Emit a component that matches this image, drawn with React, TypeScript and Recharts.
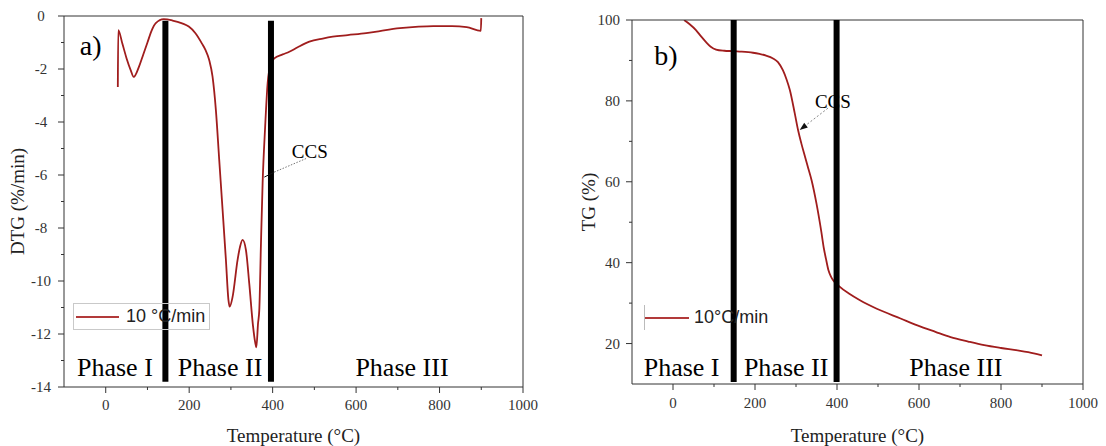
import React from "react";
import {
  Label,
  Legend,
  Line,
  LineChart,
  ReferenceDot,
  ReferenceLine,
  XAxis,
  YAxis,
} from "recharts";

// DTG curve (panel a)
const dtgTemp = [
  29, 30, 40, 50, 60, 67, 80, 90, 100, 110, 120, 139, 160, 183, 199, 215, 231,
  239, 248, 256, 264, 272, 280, 288, 294, 297, 304, 316, 322, 328, 336, 344,
  353, 358, 361, 365, 368, 372, 376, 382, 388, 396, 404, 424, 440, 460, 488,
  520, 544, 580, 624, 660, 705, 750, 785, 830, 865, 899, 900,
];
const dtgRate = [
  -2.68, -0.53, -1.05, -1.6, -2.05, -2.3, -1.9, -1.45, -1.0, -0.55, -0.27,
  -0.12, -0.17, -0.28, -0.4, -0.65, -1.05, -1.28, -1.66, -2.29, -3.55, -5.43,
  -7.3, -9.2, -10.7, -10.97, -10.6, -9.2, -8.7, -8.45, -8.83, -10.1, -11.7,
  -12.3, -12.5, -11.6, -11.1, -8.6, -6.3, -4.2, -2.54, -1.79, -1.6, -1.45,
  -1.35, -1.18, -0.97, -0.85, -0.78, -0.72, -0.65, -0.56, -0.46, -0.4, -0.38,
  -0.38, -0.42, -0.56, -0.08,
];

// TG curve (panel b)
const tgTemp = [
  27, 40, 56, 68, 80, 92, 105, 125, 145, 162, 195, 211, 227, 244, 256, 268,
  277, 285, 297, 305, 313, 322, 330, 338, 350, 362, 368, 373, 379, 385, 391,
  399, 407, 430, 456, 497, 555, 596, 640, 677, 720, 759, 800, 841, 880, 900,
];
const tgMass = [
  100, 99.0, 97.5, 96.0, 94.6, 93.4, 92.7, 92.4, 92.3, 92.2, 91.9, 91.6, 91.2,
  90.5, 89.6, 87.6, 85.3, 82.7, 76.9, 72.8, 69.5, 66.2, 63.3, 60.4, 54.6, 47.5,
  43.5, 41.0, 38.2, 36.6, 35.6, 34.8, 34.0, 32.3, 30.7, 28.6, 26.2, 24.5, 22.9,
  21.6, 20.5, 19.6, 18.9, 18.3, 17.6, 17.1,
];

const xMajor = [0, 200, 400, 600, 800, 1000];
const xMinor = [100, 300, 500, 700, 900];
const dtgMajor = [-14, -12, -10, -8, -6, -4, -2, 0];
const dtgMinor = [-13, -11, -9, -7, -5, -3, -1];
const tgMajor = [20, 40, 60, 80, 100];
const tgMinor = [30, 50, 70, 90];

const phaseNames = ["Phase I", "Phase II", "Phase III"];
const dtgBounds = [143, 396];
const tgBounds = [148, 399];
const dtgPhaseAt = [22, 274, 710];
const tgPhaseAt = [21, 276, 690];

const dtgData = dtgTemp.map((t, i) => ({ t, v: dtgRate[i] }));
const tgData = tgTemp.map((t, i) => ({ t, v: tgMass[i] }));

const SERIF = "'Liberation Serif', 'Times New Roman', Times, serif";
const SANS = "'Liberation Sans', Arial, sans-serif";
const CURVE = "#a01d1d";
const AXIS = "#333";

const xTick = (labelDy: number) => (props: any) => {
  const { x, y, payload } = props;
  const major = xMajor.includes(payload.value);
  return (
    <g>
      <line x1={x} x2={x} y1={y} y2={y + (major ? 6 : 3)} stroke={AXIS} />
      {major && (
        <text x={x} y={y + labelDy} textAnchor="middle" dominantBaseline="central"
          fontFamily={SERIF} fontSize={15} fill="#333">
          {payload.value}
        </text>
      )}
    </g>
  );
};

const yTick = (majors: number[], anchor: string, dx: number) => (props: any) => {
  const { x, y, payload } = props;
  const major = majors.includes(payload.value);
  return (
    <g>
      <line x1={x - (major ? 6 : 3)} x2={x} y1={y} y2={y} stroke={AXIS} />
      {major && (
        <text x={x - dx} y={y} textAnchor={anchor} dominantBaseline="central"
          fontFamily={SERIF} fontSize={15} fill="#333">
          {payload.value}
        </text>
      )}
    </g>
  );
};

const legendBox = (boxed: boolean) => (props: any) => {
  const item = props.payload && props.payload[0];
  return (
    <div
      style={{
        width: boxed ? 137 : 130,
        height: 27,
        boxSizing: "border-box",
        border: boxed ? "1px solid #c9c9c9" : "none",
        display: "flex",
        alignItems: "center",
        fontFamily: SANS,
        fontSize: 18,
        color: "#222",
      }}
    >
      {!boxed && (
        <span style={{ display: "inline-block", width: 0, height: 25, borderLeft: "1.5px solid #bbb" }} />
      )}
      <span
        style={{
          display: "inline-block",
          width: boxed ? 43 : 44,
          borderTop: "2px solid #b23a3a",
          marginLeft: boxed ? 2 : 0,
          marginRight: boxed ? 7 : 5,
        }}
      />
      <span>{item ? item.value : ""}</span>
    </div>
  );
};

const Arrow = (p: any) => {
  const { x1, y1, x2, y2 } = p;
  const a = Math.atan2(y2 - y1, x2 - x1);
  const bx = x2 - 8 * Math.cos(a);
  const by = y2 - 8 * Math.sin(a);
  const w = 3;
  const pts = `${x2},${y2} ${bx - w * Math.sin(a)},${by + w * Math.cos(a)} ${bx + w * Math.sin(a)},${by - w * Math.cos(a)}`;
  return (
    <g>
      <line x1={x1} y1={y1} x2={bx} y2={by} stroke="#888" strokeDasharray="2 2" />
      <polygon points={pts} fill="#111" />
    </g>
  );
};

const textLabel = (value: string, size: number) => ({
  value,
  position: "center" as const,
  fill: "#000",
  fontSize: size,
  fontFamily: SERIF,
});

const axisLabelStyle = { fontFamily: SERIF, fontSize: 19, fill: "#222" };

function DtgPanel() {
  return (
    <LineChart width={540} height={446} data={dtgData}
      margin={{ top: 16, right: 17, bottom: 0, left: 0 }}>
      <XAxis dataKey="t" type="number" domain={[-100, 1000]} allowDataOverflow
        ticks={[...xMajor, ...xMinor].sort((a, b) => a - b)} interval={0}
        height={59} tickSize={0} tickMargin={0} tickLine={false}
        axisLine={{ stroke: AXIS }} tick={xTick(18)}>
        <Label value="Temperature (°C)" position="insideBottom" offset={4} style={axisLabelStyle} />
      </XAxis>
      <YAxis type="number" domain={[-14, 0]} allowDataOverflow
        ticks={[...dtgMajor, ...dtgMinor].sort((a, b) => a - b)} interval={0}
        width={64} tickSize={0} tickMargin={0} tickLine={false}
        axisLine={{ stroke: AXIS }} tick={yTick(dtgMajor, "middle", 23)}>
        <Label value="DTG (%/min)" angle={-90} position="insideLeft" offset={17}
          style={{ ...axisLabelStyle, textAnchor: "middle" }} />
      </YAxis>
      <Legend layout="horizontal" verticalAlign="middle" align="center"
        wrapperStyle={{ left: 73, top: 303, width: 137, height: 27, margin: 0 }}
        content={legendBox(true)} />
      <Line type="monotone" dataKey="v" name="10 °C/min" stroke={CURVE}
        strokeWidth={1.8} dot={false} isAnimationActive={false} />
      <ReferenceLine y={0} stroke={AXIS} />
      <ReferenceLine x={1000} stroke={AXIS} />
      {dtgBounds.map((b) => (
        <ReferenceLine key={b} segment={[{ x: b, y: -0.18 }, { x: b, y: -13.8 }]}
          stroke="#000" strokeWidth={6} />
      ))}
      <ReferenceLine segment={[{ x: 380, y: -6.08 }, { x: 404, y: -5.89 }]} stroke="#111" />
      <ReferenceLine segment={[{ x: 404, y: -5.89 }, { x: 483, y: -5.36 }]}
        stroke="#777" strokeDasharray="1.5 1.5" />
      <ReferenceDot x={489} y={-5.11} r={0} stroke="none" fill="none" label={textLabel("CCS", 19)} />
      <ReferenceDot x={-36} y={-1.1} r={0} stroke="none" fill="none" label={textLabel("a)", 28)} />
      {phaseNames.map((n, i) => (
        <ReferenceDot key={n} x={dtgPhaseAt[i]} y={-13.23} r={0} stroke="none" fill="none"
          label={textLabel(n, 26)} />
      ))}
    </LineChart>
  );
}

function TgPanel() {
  return (
    <LineChart width={553} height={446} data={tgData}
      margin={{ top: 20, right: 23, bottom: 0, left: 0 }}>
      <XAxis dataKey="t" type="number" domain={[-100, 1000]} allowDataOverflow
        ticks={[...xMajor, ...xMinor].sort((a, b) => a - b)} interval={0}
        height={62} tickSize={0} tickMargin={0} tickLine={false}
        axisLine={{ stroke: AXIS }} tick={xTick(19)}>
        <Label value="Temperature (°C)" position="insideBottom" offset={4} style={axisLabelStyle} />
      </XAxis>
      <YAxis type="number" domain={[10, 100]} allowDataOverflow
        ticks={[...tgMajor, ...tgMinor].sort((a, b) => a - b)} interval={0}
        width={79} tickSize={0} tickMargin={0} tickLine={false}
        axisLine={{ stroke: AXIS }} tick={yTick(tgMajor, "end", 12)}>
        <Label value="TG (%)" angle={-90} position="insideLeft" offset={35}
          style={{ ...axisLabelStyle, textAnchor: "middle" }} />
      </YAxis>
      <Legend layout="horizontal" verticalAlign="middle" align="center"
        wrapperStyle={{ left: 91, top: 304, width: 130, height: 27, margin: 0 }}
        content={legendBox(false)} />
      <Line type="monotone" dataKey="v" name="10°C/min" stroke={CURVE}
        strokeWidth={1.8} dot={false} isAnimationActive={false} />
      <ReferenceLine y={100} stroke={AXIS} />
      <ReferenceLine x={1000} stroke={AXIS} />
      {tgBounds.map((b) => (
        <ReferenceLine key={b} segment={[{ x: b, y: 100 }, { x: b, y: 10.5 }]}
          stroke="#000" strokeWidth={6} />
      ))}
      <ReferenceLine segment={[{ x: 378, y: 78.2 }, { x: 309, y: 72.8 }]} shape={Arrow} />
      <ReferenceDot x={390} y={80} r={0} stroke="none" fill="none" label={textLabel("CCS", 19)} />
      <ReferenceDot x={-17} y={91.3} r={0} stroke="none" fill="none" label={textLabel("b)", 28)} />
      {phaseNames.map((n, i) => (
        <ReferenceDot key={n} x={tgPhaseAt[i]} y={14.36} r={0} stroke="none" fill="none"
          label={textLabel(n, 26)} />
      ))}
    </LineChart>
  );
}

export default function App() {
  return (
    <div style={{ position: "absolute", left: 0, top: 0, width: 1106, height: 446, background: "#fff" }}>
      <div style={{ position: "absolute", left: 0, top: 0 }}>
        <DtgPanel />
      </div>
      <div style={{ position: "absolute", left: 553, top: 0 }}>
        <TgPanel />
      </div>
    </div>
  );
}
